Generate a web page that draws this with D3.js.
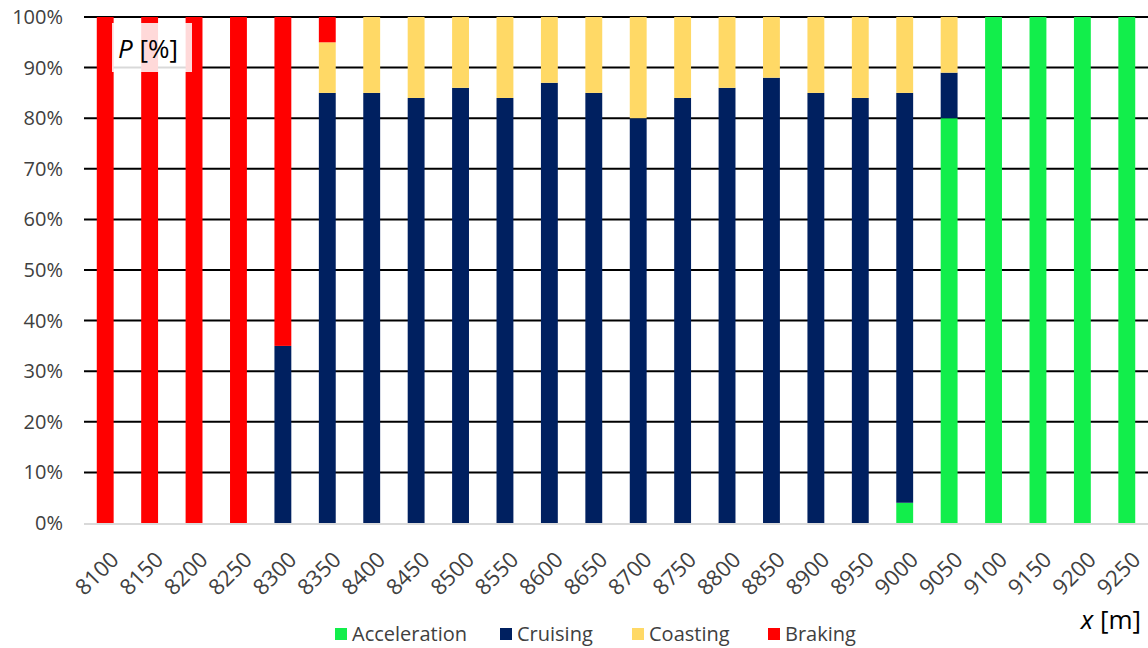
<!DOCTYPE html>
<html><head><meta charset="utf-8">
<script src="https://cdn.jsdelivr.net/npm/d3@7"></script>
<style>body{margin:0;background:#fff}svg{display:block;font-family:"Open Sans",sans-serif}</style>
</head><body><svg id="c" width="1148" height="648"></svg>
<script>
const categories=["8100","8150","8200","8250","8300","8350","8400","8450","8500","8550","8600","8650","8700","8750","8800","8850","8900","8950","9000","9050","9100","9150","9200","9250"];
const acceleration=[0,0,0,0,0,0,0,0,0,0,0,0,0,0,0,0,0,0,4,80,100,100,100,100];
const cruising=[0,0,0,0,35,85,85,84,86,84,87,85,80,84,86,88,85,84,81,9,0,0,0,0];
const coasting=[0,0,0,0,0,10,15,16,14,16,13,15,20,16,14,12,15,16,15,11,0,0,0,0];
const braking=[100,100,100,100,65,5,0,0,0,0,0,0,0,0,0,0,0,0,0,0,0,0,0,0];
const seriesNames=["Acceleration","Cruising","Coasting","Braking"];
const colors=["#12EE4B","#002060","#FFD966","#FF0000"];
const yTicks=[0,10,20,30,40,50,60,70,80,90,100];

const svg=d3.select("#c");
const L=83,R=1149,T=17,B=523;
const x=d3.scaleBand().domain(categories).range([L,R]).paddingInner(0.62).paddingOuter(0.31);
const y=d3.scaleLinear().domain([0,100]).range([B,T]);
const rows=categories.map((c,i)=>({cat:c,Acceleration:acceleration[i],Cruising:cruising[i],Coasting:coasting[i],Braking:braking[i]}));
const stack=d3.stack().keys(seriesNames)(rows);

// grid
svg.append("g").selectAll("line").data(yTicks.filter(d=>d>0)).join("line")
 .attr("x1",L+1).attr("x2",1148).attr("y1",d=>y(d)).attr("y2",d=>y(d))
 .attr("stroke","#000").attr("stroke-width",2);
svg.append("line").attr("x1",L+1).attr("x2",1148).attr("y1",y(0)+1).attr("y2",y(0)+1).attr("stroke","#d9d9d9").attr("stroke-width",2);

// bars
svg.append("g").selectAll("g").data(stack).join("g").attr("fill",(d,i)=>colors[i])
 .selectAll("rect").data(d=>d).join("rect")
 .attr("x",d=>x(d.data.cat)).attr("width",x.bandwidth())
 .attr("y",d=>y(d[1])).attr("height",d=>Math.max(0,y(d[0])-y(d[1])));

// y axis labels
const ya=svg.append("g").attr("transform",`translate(${L-20},0)`)
 .call(d3.axisLeft(y).tickValues(yTicks).tickFormat(d=>d+"%").tickSize(0).tickPadding(0));
ya.select(".domain").remove();
ya.selectAll("text").attr("font-size",20).attr("fill","#404040").attr("font-family","Open Sans, sans-serif");

// x axis labels
const xa=svg.append("g").attr("transform",`translate(0,${B})`)
 .call(d3.axisBottom(x).tickSize(0).tickPadding(0));
xa.select(".domain").remove();
xa.selectAll("text").attr("font-size",22).attr("fill","#404040").attr("font-family","Open Sans, sans-serif")
 .attr("text-anchor","end").attr("dy",0).attr("y",0).attr("transform","translate(15,38) rotate(-45)");

// P label box
svg.append("rect").attr("x",112).attr("y",23).attr("width",80).attr("height",49).attr("fill","#fff").attr("fill-opacity",0.85);
const pt=svg.append("text").attr("x",118).attr("y",58).attr("font-size",26).attr("fill","#000");
pt.append("tspan").attr("font-style","italic").text("P");
pt.append("tspan").text(" [%]");

// x label
const xt=svg.append("text").attr("x",1141).attr("y",629).attr("text-anchor","end").attr("font-size",26).attr("fill","#000");
xt.append("tspan").attr("font-style","italic").text("x");
xt.append("tspan").text(" [m]");

// legend
const legX=[335,500,632,768];
const lg=svg.append("g").selectAll("g").data(seriesNames).join("g").attr("transform",(d,i)=>`translate(${legX[i]},634)`);
lg.append("rect").attr("x",0).attr("y",-6).attr("width",12).attr("height",12).attr("fill",(d,i)=>colors[i]);
lg.append("text").attr("x",17).attr("y",7).attr("font-size",20).attr("fill","#404040").text(d=>d);
</script></body></html>
